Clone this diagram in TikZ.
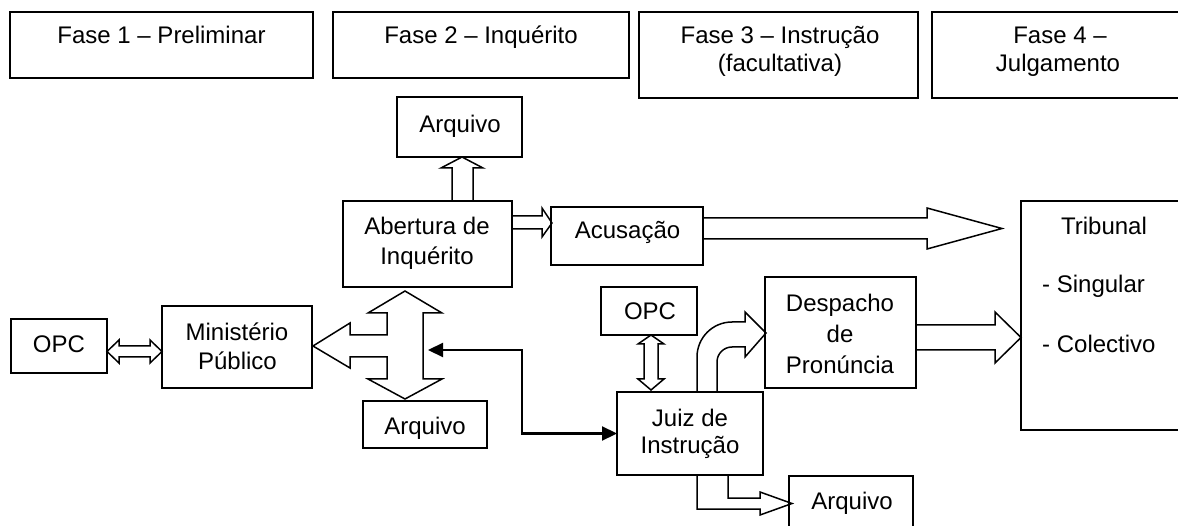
\documentclass[tikz,border=0pt]{standalone}
\usepackage{fontspec}
\setmainfont{Liberation Sans}
\usetikzlibrary{arrows.meta,calc}
\begin{document}
\begin{tikzpicture}[x=1pt,y=-1pt,
  box/.style={draw, line width=1.5pt, rectangle, inner sep=0pt, outer sep=0pt},
  txt/.style={anchor=base, inner sep=0pt, font=\fontsize{24}{28}\selectfont},
  blk/.style={draw, fill=white, line width=1.5pt, line join=miter, miter limit=10},
  link/.style={line width=2.2pt, {Triangle[length=15pt,width=14pt]}-{Triangle[length=15pt,width=14pt]}}]
\useasboundingbox (0,0) rectangle (1178,526);
\clip (0,0) rectangle (1178,526);

% phase boxes
\node[box, minimum width=303pt, minimum height=66pt] (f1) at (161.5,45) {};
\node[box, minimum width=296pt, minimum height=66pt] (f2) at (481,45) {};
\node[box, minimum width=279pt, minimum height=86pt] (f3) at (778.5,55) {};
\node[box, minimum width=288pt, minimum height=86pt] (f4) at (1076,55) {};
\node[txt] (f1t) at (161.5,44) {Fase 1 – Preliminar};
\node[txt] (f2t) at (481,44) {Fase 2 – Inquérito};
\node[txt] (f3t1) at (780,44) {Fase 3 – Instrução};
\node[txt] (f3t2) at (780,72) {(facultativa)};
\node[txt] (f4t1) at (1060,44) {Fase 4 –};
\node[txt] (f4t2) at (1058,72) {Julgamento};

% block arrows
\draw[blk] (452,201) -- (452,168) -- (441,168) -- (462,157) -- (483,168) -- (473,168) -- (473,201);
\draw[blk] (512,216) -- (542,216) -- (542,208) -- (552,223) -- (542,237) -- (542,229) -- (512,229);
\draw[blk] (703,218) -- (927,218) -- (927,208) -- (1002,228.5) -- (927,249) -- (927,239) -- (703,239);
\draw[blk] (916,325) -- (995,325) -- (995,312) -- (1021,337.5) -- (995,363) -- (995,350) -- (916,350);
\draw[blk] (107,351.5) -- (119,340) -- (119,346) -- (150,346) -- (150,340) -- (162,351.5) -- (150,363) -- (150,357) -- (119,357) -- (119,363) -- cycle;
\draw[blk] (405,291) -- (442,313) -- (423,313) -- (423,379) -- (442,379) -- (405,399) -- (368,379) -- (387,379) -- (387,357) -- (350,357) -- (350,368) -- (313,346) -- (350,323) -- (350,335) -- (387,335) -- (387,313) -- (368,313) -- cycle;
\draw[blk] (651,335) -- (664,344) -- (658,344) -- (658,379) -- (664,379) -- (651,390) -- (638,379) -- (644,379) -- (644,344) -- (638,344) -- cycle;
\draw[blk] (697,392) -- (697,357) arc[start angle=180, end angle=270, radius=35] -- (745,322) -- (745,312) -- (766,333) -- (745,357) -- (745,347) -- (732,347) arc[start angle=270, end angle=180, radius=15] -- (717,392);
\draw[blk] (697,475) -- (697,509) -- (760,509) -- (760,515) -- (792,503.5) -- (760,492) -- (760,498) -- (728,498) -- (728,475);

% boxes
\node[box, minimum width=125pt, minimum height=60pt] (arqT) at (459.5,127) {};
\node[box, minimum width=169pt, minimum height=86pt] (abert) at (427.5,244) {};
\node[box, minimum width=152pt, minimum height=58pt] (acus) at (627,236) {};
\node[box, minimum width=199pt, minimum height=229pt] (trib) at (1120.5,315.5) {};
\node[box, minimum width=96pt, minimum height=54pt] (opcL) at (59,346) {};
\node[box, minimum width=150pt, minimum height=82pt] (mp) at (237,347) {};
\node[box, minimum width=124pt, minimum height=47pt] (arqB) at (425,424.5) {};
\node[box, minimum width=96pt, minimum height=48pt] (opcM) at (649,311) {};
\node[box, minimum width=151pt, minimum height=111pt] (desp) at (840.5,332.5) {};
\node[box, minimum width=146pt, minimum height=83pt] (juiz) at (690,433.5) {};
\node[box, minimum width=124pt, minimum height=69pt] (arqR) at (851,510.5) {};

% texts
\node[txt] (arqTt) at (460,133) {Arquivo};
\node[txt] (abt1) at (427,235) {Abertura de};
\node[txt] (abt2) at (427,265) {Inquérito};
\node[txt] (acust) at (627.5,239) {Acusação};
\node[txt] (tribt1) at (1104,235) {Tribunal};
\node[txt, anchor=base west] (tribt2) at (1042,293) {- Singular};
\node[txt, anchor=base west] (tribt3) at (1042,353) {- Colectivo};
\node[txt] (opcLt) at (59,352.5) {OPC};
\node[txt] (mpt1) at (237,341) {Ministério};
\node[txt] (mpt2) at (237.5,370) {Público};
\node[txt] (arqBt) at (425,434) {Arquivo};
\node[txt] (opcMt) at (650,320) {OPC};
\node[txt] (despt1) at (840,312) {Despacho};
\node[txt] (despt2) at (840,343) {de};
\node[txt] (despt3) at (840,374) {Pronúncia};
\node[txt] (juizt1) at (690,426) {Juiz de};
\node[txt] (juizt2) at (690,453) {Instrução};
\node[txt] (arqRt) at (852,509) {Arquivo};

% black connector
\coordinate (crossR) at (428,350);
\coordinate (bend) at (522,433.5);
\draw[link] (crossR) -| (bend) -- (juiz.west);
\end{tikzpicture}
\end{document}
